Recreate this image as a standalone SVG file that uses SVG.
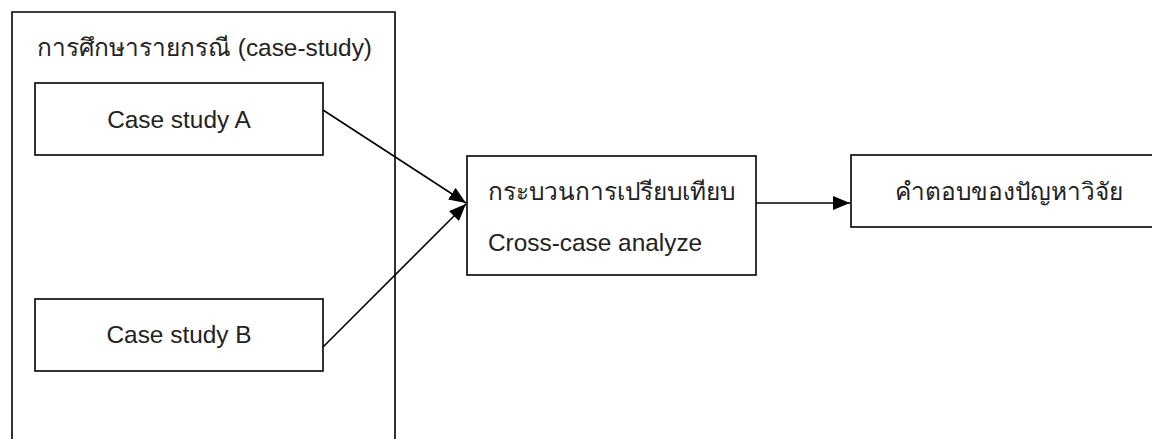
<svg xmlns="http://www.w3.org/2000/svg" width="1152" height="439" viewBox="0 0 1152 439">
<style>
.box{fill:#fff;stroke:#000;stroke-width:1.6}
.frame{fill:none;stroke:#000;stroke-width:1.6}
.t{font-family:"Liberation Sans","Noto Sans",sans-serif;font-size:24.4px;fill:#222}
.c{stroke:#000;stroke-width:1.6;fill:none}
</style>
<defs>
<marker id="ah" markerUnits="userSpaceOnUse" markerWidth="20" markerHeight="16" refX="17" refY="7" orient="auto">
<path d="M0,0 L17,7 L0,14 Z" fill="#000"/>
</marker>
</defs>
<rect width="1152" height="439" fill="#fff"/>
<g id="case-study-group">
<path class="frame" d="M12,445 V12 H395 V445"/>
<text class="t" x="37" y="56">การศึกษารายกรณี (case-study)</text>
</g>
<g id="case-a">
<rect class="box" x="35" y="83" width="288" height="72"/>
<text class="t" x="179" y="128" text-anchor="middle">Case study A</text>
</g>
<g id="case-b">
<rect class="box" x="35" y="299" width="288" height="72"/>
<text class="t" x="179" y="343" text-anchor="middle">Case study B</text>
</g>
<g id="cross-case">
<rect class="box" x="467" y="156" width="289" height="119"/>
<text class="t" x="488" y="200">กระบวนการเปรียบเทียบ</text>
<text class="t" x="488" y="251">Cross-case analyze</text>
</g>
<g id="answer">
<rect class="box" x="851" y="155" width="310" height="72"/>
<text class="t" x="895" y="200">คำตอบของปัญหาวิจัย</text>
</g>
<g id="connectors">
<line class="c" x1="323" y1="110" x2="466" y2="203" marker-end="url(#ah)"/>
<line class="c" x1="323" y1="347" x2="466" y2="204" marker-end="url(#ah)"/>
<line class="c" x1="756" y1="203" x2="850" y2="203" marker-end="url(#ah)"/>
</g>
</svg>
